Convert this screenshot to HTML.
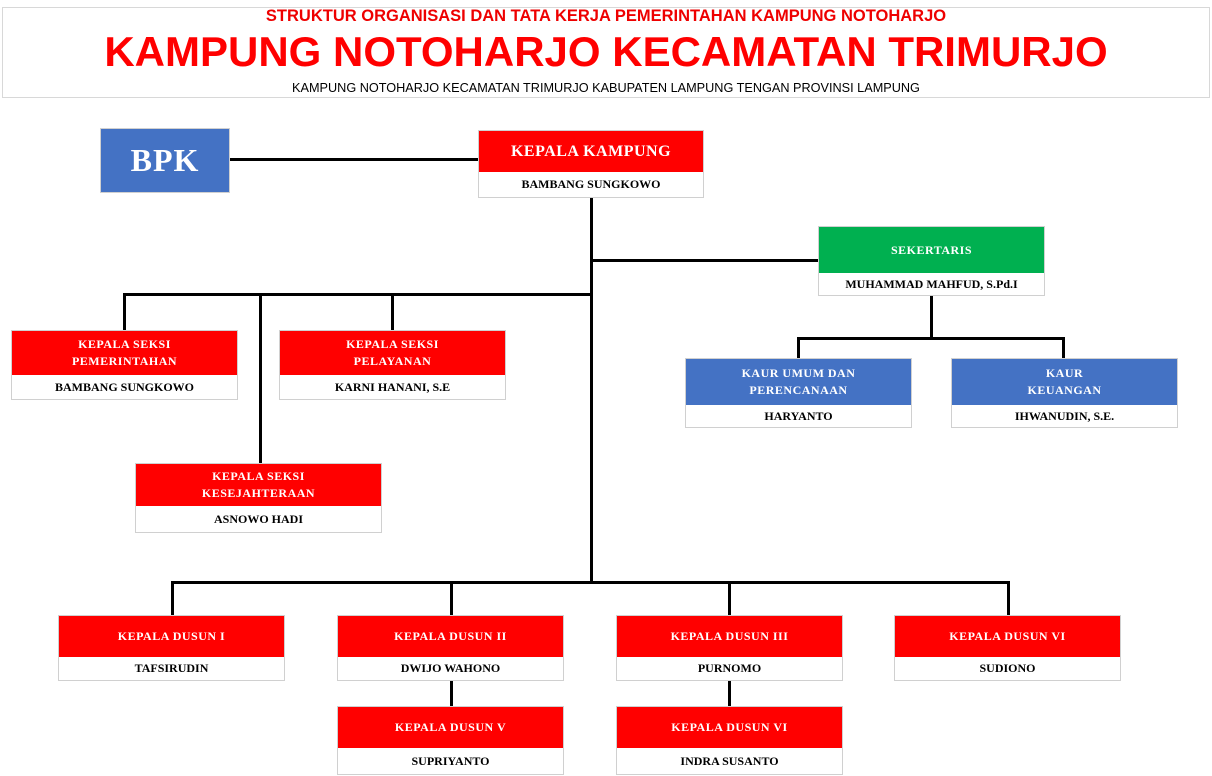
<!DOCTYPE html>
<html><head><meta charset="utf-8"><style>
body{margin:0;width:1212px;height:776px;background:#fff;position:relative;overflow:hidden;font-family:"Liberation Serif",serif}
.a{position:absolute}
.hdr{left:2px;top:7px;width:1206px;height:89px;border:1px solid #d8d8d8}
.t{position:absolute;left:0;width:1212px;text-align:center;font-family:"Liberation Sans",sans-serif}
.box{position:absolute;box-shadow:0 0 0 1px #d0d0d0}
.top{display:flex;align-items:center;justify-content:center;text-align:center;color:#fff;font-weight:bold;font-size:12px;letter-spacing:0.5px;line-height:17px}
.bot{display:flex;align-items:center;justify-content:center;background:#fff;color:#000;font-weight:bold;font-size:12px}
.r{background:#f00}.b{background:#4472c4}.g{background:#00b050}
.h{position:absolute;height:3px;background:#000}
.v{position:absolute;width:3px;background:#000}
</style></head><body>
<div class="a hdr"></div>
<div class="t" style="top:7px;font-size:16.5px;font-weight:bold;color:#e00">STRUKTUR ORGANISASI DAN TATA KERJA PEMERINTAHAN KAMPUNG NOTOHARJO</div>
<div class="t" style="top:28px;font-size:42px;font-weight:bold;color:#f00">KAMPUNG NOTOHARJO KECAMATAN TRIMURJO</div>
<div class="t" style="top:81px;font-size:12.7px;color:#000">KAMPUNG NOTOHARJO KECAMATAN TRIMURJO KABUPATEN LAMPUNG TENGAN PROVINSI LAMPUNG</div>

<div class="h" style="left:229px;top:158px;width:250px"></div>
<div class="v" style="left:590px;top:197px;height:387px"></div>
<div class="h" style="left:590px;top:259px;width:229px"></div>
<div class="v" style="left:930px;top:295px;height:44px"></div>
<div class="h" style="left:797px;top:337px;width:268px"></div>
<div class="v" style="left:797px;top:337px;height:22px"></div>
<div class="v" style="left:1062px;top:337px;height:22px"></div>
<div class="h" style="left:123px;top:293px;width:470px"></div>
<div class="v" style="left:123px;top:293px;height:38px"></div>
<div class="v" style="left:259px;top:293px;height:171px"></div>
<div class="v" style="left:391px;top:293px;height:38px"></div>
<div class="h" style="left:171px;top:581px;width:839px"></div>
<div class="v" style="left:171px;top:581px;height:35px"></div>
<div class="v" style="left:450px;top:581px;height:35px"></div>
<div class="v" style="left:728px;top:581px;height:35px"></div>
<div class="v" style="left:1007px;top:581px;height:35px"></div>
<div class="v" style="left:450px;top:680px;height:27px"></div>
<div class="v" style="left:728px;top:680px;height:27px"></div>

<div class="box b top" style="left:101px;top:129px;width:128px;height:63px;font-size:32px;letter-spacing:1px">BPK</div>

<div class="box" style="left:479px;top:131px;width:224px;height:66px"><div class="top r" style="height:41px;font-size:16px">KEPALA KAMPUNG</div><div class="bot" style="height:25px">BAMBANG SUNGKOWO</div></div>

<div class="box" style="left:819px;top:227px;width:225px;height:68px"><div class="top g" style="height:46px">SEKERTARIS</div><div class="bot" style="height:22px">MUHAMMAD MAHFUD, S.Pd.I</div></div>

<div class="box" style="left:686px;top:359px;width:225px;height:68px"><div class="top b" style="height:46px">KAUR UMUM DAN<br>PERENCANAAN</div><div class="bot" style="height:22px">HARYANTO</div></div>
<div class="box" style="left:952px;top:359px;width:225px;height:68px"><div class="top b" style="height:46px">KAUR<br>KEUANGAN</div><div class="bot" style="height:22px">IHWANUDIN, S.E.</div></div>

<div class="box" style="left:12px;top:331px;width:225px;height:68px"><div class="top r" style="height:44px">KEPALA SEKSI<br>PEMERINTAHAN</div><div class="bot" style="height:24px">BAMBANG SUNGKOWO</div></div>
<div class="box" style="left:280px;top:331px;width:225px;height:68px"><div class="top r" style="height:44px">KEPALA SEKSI<br>PELAYANAN</div><div class="bot" style="height:24px">KARNI HANANI, S.E</div></div>
<div class="box" style="left:136px;top:464px;width:245px;height:68px"><div class="top r" style="height:42px">KEPALA SEKSI<br>KESEJAHTERAAN</div><div class="bot" style="height:26px">ASNOWO HADI</div></div>

<div class="box" style="left:59px;top:616px;width:225px;height:64px"><div class="top r" style="height:41px">KEPALA DUSUN I</div><div class="bot" style="height:23px">TAFSIRUDIN</div></div>
<div class="box" style="left:338px;top:616px;width:225px;height:64px"><div class="top r" style="height:41px">KEPALA DUSUN II</div><div class="bot" style="height:23px">DWIJO WAHONO</div></div>
<div class="box" style="left:617px;top:616px;width:225px;height:64px"><div class="top r" style="height:41px">KEPALA DUSUN III</div><div class="bot" style="height:23px">PURNOMO</div></div>
<div class="box" style="left:895px;top:616px;width:225px;height:64px"><div class="top r" style="height:41px">KEPALA DUSUN VI</div><div class="bot" style="height:23px">SUDIONO</div></div>
<div class="box" style="left:338px;top:707px;width:225px;height:67px"><div class="top r" style="height:41px">KEPALA DUSUN V</div><div class="bot" style="height:26px">SUPRIYANTO</div></div>
<div class="box" style="left:617px;top:707px;width:225px;height:67px"><div class="top r" style="height:41px">KEPALA DUSUN VI</div><div class="bot" style="height:26px">INDRA SUSANTO</div></div>
</body></html>
